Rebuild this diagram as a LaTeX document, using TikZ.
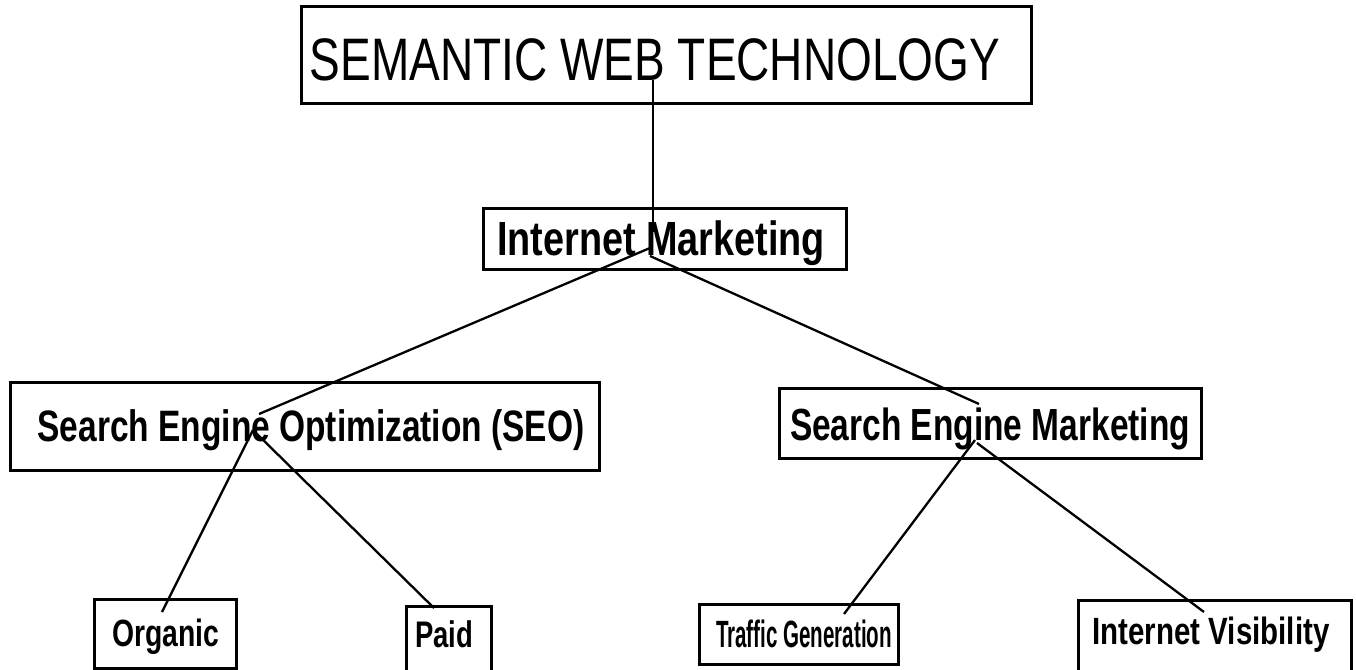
\documentclass[tikz,border=0pt]{standalone}
\usepackage{fontspec}
\setmainfont{Liberation Sans}
\usetikzlibrary{calc}
\newcommand{\fitw}[3]{\resizebox{#1pt}{\height}{\fontsize{#2pt}{#2pt}\selectfont #3}}
\begin{document}
\begin{tikzpicture}[x=1pt,y=-1pt,
  box/.style={draw, line width=2.7pt, inner sep=0pt, anchor=north west},
  txt/.style={inner sep=0pt, anchor=base},
  conn/.style={line width=2.3pt}]
\useasboundingbox (0,0) rectangle (1356,669);
% boxes
\node[box, minimum width=730pt, minimum height=97pt] (title) at (300,5) {};
\node[box, minimum width=363pt, minimum height=61pt] (im) at (482,207) {};
\node[box, minimum width=589pt, minimum height=88pt] (seo) at (9,381) {};
\node[box, minimum width=422pt, minimum height=70pt] (sem) at (778,387) {};
\node[box, minimum width=142pt, minimum height=69pt] (org) at (93,598) {};
\node[box, minimum width=85pt, minimum height=95pt] (paid) at (405,605) {};
\node[box, minimum width=199pt, minimum height=60pt] (tg) at (698,603) {};
\node[box, minimum width=273pt, minimum height=100pt] (iv) at (1077,599) {};
% texts
\node[txt] (title-t) at (655,80) {\fitw{690}{60}{SEMANTIC WEB TECHNOLOGY}};
\node[txt] (im-t) at (661,255) {\fitw{328}{48}{\bfseries Internet Marketing}};
\node[txt] (seo-t) at (311,441) {\fitw{547}{44}{\bfseries Search Engine Optimization (SEO)}};
\node[txt] (sem-t) at (990,440) {\fitw{400}{45}{\bfseries Search Engine Marketing}};
\node[txt] (org-t) at (166,646) {\fitw{107}{38}{\bfseries Organic}};
\node[txt] (paid-t) at (444,647) {\fitw{58}{37}{\bfseries Paid}};
\node[txt] (tg-t) at (804,647) {\fitw{176}{38}{\bfseries Traffic Generation}};
\node[txt] (iv-t) at (1211,644) {\fitw{237}{38}{\bfseries Internet Visibility}};
% connectors
\draw[conn] ($(title.north west)+(353,75)$) -- ($(im.north west)+(171,25)$);
\draw[conn] ($(im.north west)+(168,41)$) -- ($(seo.north west)+(250,33)$);
\draw[conn] ($(im.north west)+(168,49)$) -- ($(sem.north west)+(201,17)$);
\draw[conn] ($(seo.north west)+(244,49)$) -- ($(org.north west)+(69,14)$);
\draw[conn] ($(seo.north west)+(247,52)$) -- ($(paid.north west)+(29,3)$);
\draw[conn] ($(sem.north west)+(197,53)$) -- ($(tg.north west)+(146,11)$);
\draw[conn] ($(sem.north west)+(199,56)$) -- ($(iv.north west)+(127,13)$);
\end{tikzpicture}
\end{document}
